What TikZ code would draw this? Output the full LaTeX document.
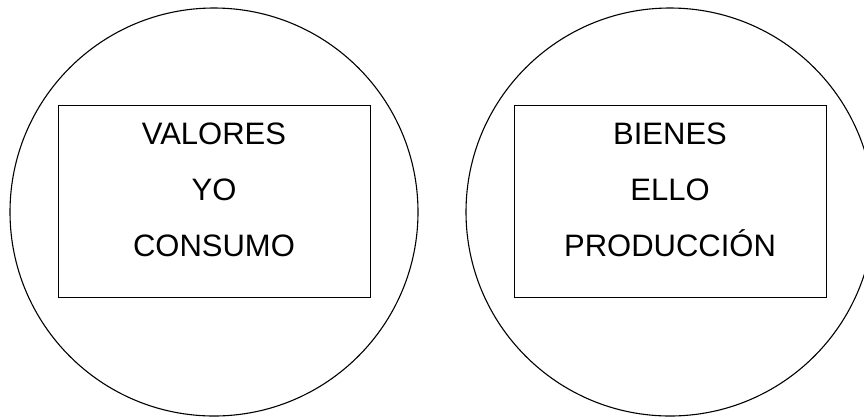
\documentclass[tikz,border=0pt]{standalone}
\usepackage{fontspec}
\setmainfont{Liberation Sans}
\usetikzlibrary{positioning}

\begin{document}
\begin{tikzpicture}[x=1pt, y=-1pt,
        circulo/.style={draw, circle, line width=1.1pt, minimum size=408pt, inner sep=0pt},
        caja/.style={draw, rectangle, line width=1pt, minimum width=312pt, minimum height=192pt, inner sep=0pt},
        texto/.style={align=center, inner sep=0pt, font=\fontsize{31}{56}\selectfont}]

    % Frame of the picture
    \useasboundingbox (0,0) rectangle (864,416);
    \clip (0,0) rectangle (864,416);

    % Left side
    \node[circulo] (circ1) at (214,212) {};
    \node[caja] (caja1) at (214,201) {};
    \node[texto] (txt1) at (214,190) {VALORES\\YO\\CONSUMO};

    % Right side
    \node[circulo] (circ2) at (670,212) {};
    \node[caja] (caja2) at (670,201) {};
    \node[texto] (txt2) at (670,190) {BIENES\\ELLO\\PRODUCCIÓN};
\end{tikzpicture}
\end{document}
